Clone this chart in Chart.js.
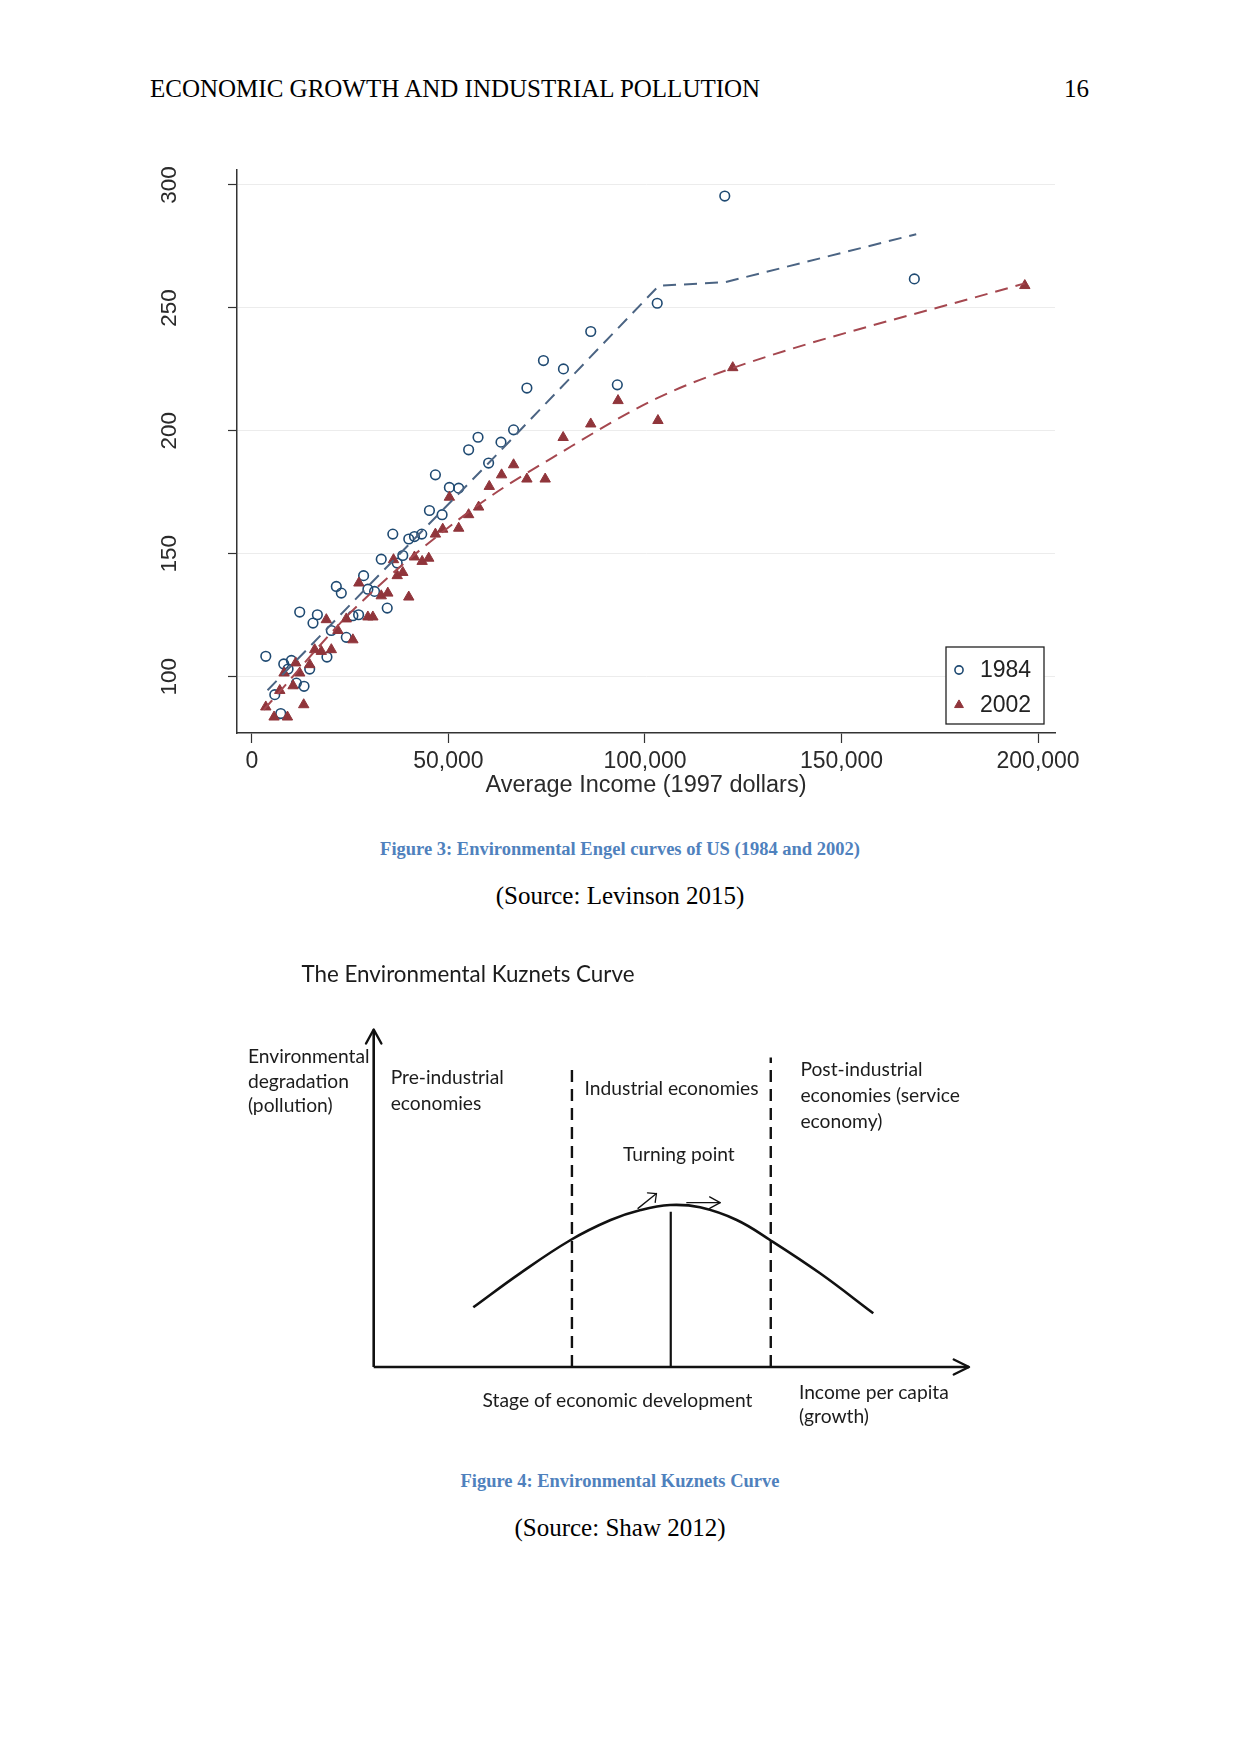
<!DOCTYPE html>
<html><head><meta charset="utf-8">
<script src="https://cdn.jsdelivr.net/npm/chart.js@4.4.1/dist/chart.umd.min.js"></script>
<style>
html,body{margin:0;padding:0;background:#fff;}
body{width:1241px;height:1754px;position:relative;overflow:hidden;}
.t{position:absolute;white-space:nowrap;}
#c1{position:absolute;left:140px;top:150px;}
#c2{position:absolute;left:200px;top:940px;}
</style></head><body>
<canvas id="c1" width="960" height="650"></canvas>
<canvas id="c2" width="800" height="500"></canvas>
<script>
// ---------- Figure 3 data ----------
const income1984 = [3553, 8120, 10070, 9220, 14720, 5840, 13280, 7360, 11340, 12180, 16670, 15560, 20220, 19110, 21490, 22760, 24030, 25710, 27160, 28430, 29520, 31220, 34440, 32920, 36980, 38400, 35860, 39920, 41370, 43220, 45180, 48400, 46700, 50250, 52620, 55150, 57540, 60230, 63380, 66580, 69970, 74180, 79260, 86210, 92970, 103120, 120300, 168520];
const pollution1984 = [108.3, 105.2, 106.6, 103.1, 103.1, 92.7, 96.1, 85.0, 97.4, 126.3, 125.2, 121.8, 118.8, 108.0, 136.7, 134.0, 116.0, 124.8, 125.2, 141.1, 135.6, 134.7, 127.9, 147.8, 146.2, 149.3, 158.0, 156.0, 157.0, 158.0, 167.6, 165.9, 182.1, 177.0, 176.7, 192.3, 197.4, 186.9, 195.4, 200.4, 217.4, 228.6, 225.2, 240.4, 218.7, 251.9, 295.5, 261.8];
const income2002 = [3553, 5660, 9060, 7110, 10490, 8200, 12180, 11170, 14720, 13200, 15990, 17680, 20220, 18950, 21900, 24030, 25710, 27230, 29520, 30790, 32920, 34590, 36040, 36980, 38400, 39920, 41370, 43320, 45000, 46700, 48560, 50250, 52620, 55150, 57690, 60400, 63530, 66580, 69970, 74620, 79190, 86210, 93150, 103300, 122330, 196620];
const pollution2002 = [87.7, 83.6, 83.6, 94.4, 96.3, 101.5, 101.5, 105.6, 104.9, 88.6, 111.0, 110.3, 111.0, 123.2, 118.8, 123.5, 115.0, 138.1, 124.3, 124.3, 132.9, 134.0, 147.6, 141.1, 142.4, 132.4, 148.7, 146.9, 148.2, 158.0, 160.0, 173.0, 160.4, 165.9, 169.0, 177.4, 182.1, 186.2, 180.4, 180.4, 197.3, 202.8, 212.3, 204.2, 225.7, 259.1];
const fitIncome1984 = [4000, 30000, 60000, 103500, 120500, 169000];
const fitPollution1984 = [94.5, 137.5, 186.5, 259, 260.5, 280];
const fitIncome2002 = [3000, 25700, 56000, 80000, 102700, 122200, 196600];
const fitPollution2002 = [86.5, 127, 168, 192.5, 213, 225.5, 260];
const seriesLabels = ['1984', '2002'];
const xTickValues = [0, 50000, 100000, 150000, 200000];
const xTickLabels = ['0', '50,000', '100,000', '150,000', '200,000'];
const yTickValues = [100, 150, 200, 250, 300];
const yTickLabels = ['100', '150', '200', '250', '300'];

// ---------- Figure 4 data ----------
const kzIncome = [16.73, 24.58, 33.08, 39.80, 44.84, 49.77, 54.81, 60.98, 66.58, 74.98, 83.92];
const kzDegradation = [17.69, 27.76, 37.63, 43.56, 46.52, 48.0, 47.32, 43.56, 37.63, 27.76, 15.91];
const stageBoundaryX = [33.3, 66.7];
const stageBoundaryTop = [88.4, 91.7];
const turningPointX = [49.9];
const turningPointTop = [46.0];
const pointerFromX = [44.4, 52.6];
const pointerFromY = [47.0, 48.7];
const pointerToX = [47.5, 58.2];
const pointerToY = [51.4, 48.7];

const zip = (xs, ys) => xs.map((v, i) => ({x: v, y: ys[i]}));

Chart.defaults.font.family = '"Liberation Sans", Arial, sans-serif';

// ---------- Figure 3 ----------
const boxLegend = {
  id: 'boxLegend',
  afterDraw(chart) {
    const {ctx, chartArea} = chart;
    const w = 98, h = 77;
    const x0 = chartArea.right - 11 - w, y0 = chartArea.bottom - 9 - h;
    ctx.save();
    ctx.fillStyle = '#fff'; ctx.fillRect(x0, y0, w, h);
    ctx.strokeStyle = '#222'; ctx.lineWidth = 1.3; ctx.strokeRect(x0, y0, w, h);
    seriesLabels.forEach((lab, i) => {
      const ds = chart.data.datasets.find(d => d.label === lab);
      const cy = y0 + 23 + i * 35;
      ctx.fillStyle = ds.pointBackgroundColor;
      ctx.strokeStyle = ds.pointBorderColor;
      ctx.lineWidth = ds.pointBorderWidth;
      Chart.helpers.drawPoint(ctx, {pointStyle: ds.pointStyle, radius: ds.pointRadius * 0.85, borderWidth: ds.pointBorderWidth, rotation: 0}, x0 + 13, cy);
      ctx.fillStyle = '#222';
      ctx.font = '23px "Liberation Sans", Arial, sans-serif';
      ctx.textBaseline = 'middle';
      ctx.textAlign = 'left';
      ctx.fillText(lab, x0 + 34, cy + 1);
    });
    ctx.restore();
  }
};
function noPad(s) { s.paddingTop = 0; s.paddingBottom = 0; s.paddingLeft = 0; s.paddingRight = 0; }

new Chart(document.getElementById('c1'), {
  type: 'scatter',
  data: {
    datasets: [
      {label: '2002 fit', data: zip(fitIncome2002, fitPollution2002), showLine: true, borderColor: '#a5474f', borderWidth: 2, borderDash: [13, 8], pointRadius: 0, cubicInterpolationMode: 'monotone', fill: false},
      {label: '1984 fit', data: zip(fitIncome1984, fitPollution1984), showLine: true, borderColor: '#4b6483', borderWidth: 2, borderDash: [13, 8], pointRadius: 0, tension: 0, fill: false},
      {label: '2002', data: zip(income2002, pollution2002), showLine: false, pointStyle: 'triangle', pointRadius: 6, pointBackgroundColor: '#90353b', pointBorderColor: '#90353b', pointBorderWidth: 1},
      {label: '1984', data: zip(income1984, pollution1984), showLine: false, pointStyle: 'circle', pointRadius: 4.8, pointBackgroundColor: 'rgba(255,255,255,0)', pointBorderColor: '#1f4a72', pointBorderWidth: 1.6}
    ]
  },
  options: {
    responsive: false, animation: false, devicePixelRatio: 1,
    layout: {padding: {top: 20, right: 45, left: 0, bottom: 0}},
    plugins: {legend: {display: false}, tooltip: {enabled: false}},
    scales: {
      x: {
        type: 'linear', min: -3770, max: 204300,
        afterBuildTicks: s => { s.ticks = xTickValues.map(v => ({value: v})); },
        afterFit: s => { s.height = 67; noPad(s); },
        ticks: {callback: v => xTickLabels[xTickValues.indexOf(v)], minRotation: 0, maxRotation: 0, autoSkip: false, padding: 5, font: {size: 23}, color: '#2a2a2a'},
        grid: {drawOnChartArea: false, tickLength: 10, tickColor: '#333', tickWidth: 1.2},
        border: {color: '#333', width: 1.5},
        title: {display: true, text: 'Average Income (1997 dollars)', font: {size: 23.5}, color: '#2a2a2a', padding: {top: 0, bottom: 0}}
      },
      y: {
        type: 'linear', min: 77.1, max: 306.1,
        afterBuildTicks: s => { s.ticks = yTickValues.map(v => ({value: v})); },
        afterFit: s => { s.width = 97; noPad(s); },
        ticks: {callback: v => yTickLabels[yTickValues.indexOf(v)], minRotation: 90, maxRotation: 90, crossAlign: 'center', padding: 39, font: {size: 22.5}, color: '#2a2a2a'},
        grid: {color: '#ececec', lineWidth: 1, tickLength: 9, tickColor: '#333', tickWidth: 1.2},
        border: {color: '#333', width: 1.5}
      }
    }
  },
  plugins: [boxLegend]
});

// ---------- Figure 4 ----------
function arrowHead(ctx, x1, y1, x2, y2, len, spread) {
  const a = Math.atan2(y2 - y1, x2 - x1);
  ctx.beginPath();
  ctx.moveTo(x2 - len * Math.cos(a - spread), y2 - len * Math.sin(a - spread));
  ctx.lineTo(x2, y2);
  ctx.lineTo(x2 - len * Math.cos(a + spread), y2 - len * Math.sin(a + spread));
  ctx.stroke();
}
const kzArrows = {
  id: 'kzArrows',
  afterDatasetsDraw(chart) {
    const {ctx, scales: {x, y}} = chart;
    ctx.save();
    ctx.strokeStyle = '#111'; ctx.lineCap = 'round'; ctx.lineJoin = 'round';
    ctx.lineWidth = 2.4;
    arrowHead(ctx, x.getPixelForValue(0), y.getPixelForValue(0), x.getPixelForValue(0), y.getPixelForValue(100), 16, 0.5);
    arrowHead(ctx, x.getPixelForValue(0), y.getPixelForValue(0), x.getPixelForValue(100), y.getPixelForValue(0), 17, 0.46);
    ctx.lineWidth = 1.3;
    pointerFromX.forEach((fx, i) => {
      const ax = x.getPixelForValue(fx), ay = y.getPixelForValue(pointerFromY[i]);
      const bx = x.getPixelForValue(pointerToX[i]), by = y.getPixelForValue(pointerToY[i]);
      ctx.beginPath(); ctx.moveTo(ax, ay); ctx.lineTo(bx, by); ctx.stroke();
      arrowHead(ctx, ax, ay, bx, by, i === 0 ? 9 : 12, i === 0 ? 0.75 : 0.5);
    });
    ctx.restore();
  }
};

const kzLine = {showLine: true, pointRadius: 0, borderColor: '#111', clip: false, fill: false};
new Chart(document.getElementById('c2'), {
  type: 'scatter',
  data: {
    datasets: [
      Object.assign({label: 'Environmental Kuznets Curve', data: zip(kzIncome, kzDegradation), borderWidth: 2.6, tension: 0.4}, kzLine),
      Object.assign({label: 'Pre-industrial / industrial boundary', data: [{x: stageBoundaryX[0], y: 0}, {x: stageBoundaryX[0], y: stageBoundaryTop[0]}], borderWidth: 2.4, borderDash: [12, 7]}, kzLine),
      Object.assign({label: 'Industrial / post-industrial boundary', data: [{x: stageBoundaryX[1], y: 0}, {x: stageBoundaryX[1], y: stageBoundaryTop[1]}], borderWidth: 2.4, borderDash: [12, 7]}, kzLine),
      Object.assign({label: 'Turning point', data: [{x: turningPointX[0], y: 0}, {x: turningPointX[0], y: turningPointTop[0]}], borderWidth: 2.2}, kzLine),
      Object.assign({label: 'Income per capita axis', data: [{x: 0, y: 0}, {x: 100, y: 0}], borderWidth: 2.6}, kzLine),
      Object.assign({label: 'Environmental degradation axis', data: [{x: 0, y: 0}, {x: 0, y: 100}], borderWidth: 2.6}, kzLine)
    ]
  },
  options: {
    responsive: false, animation: false, devicePixelRatio: 1,
    layout: {padding: {left: 173.7, right: 31, top: 89.5, bottom: 73}},
    plugins: {legend: {display: false}, tooltip: {enabled: false}},
    scales: {x: {type: 'linear', display: false, min: 0, max: 100}, y: {type: 'linear', display: false, min: 0, max: 100}}
  },
  plugins: [kzArrows]
});

// ---------- Page text ----------
const mctx = document.createElement('canvas').getContext('2d');
function fitSize(str, family, target, weight) {
  mctx.font = (weight || 'normal') + ' 100px ' + family;
  return 100 * target / mctx.measureText(str).width;
}
function addText(str, o) {
  const d = document.createElement('div');
  d.className = 't';
  d.textContent = str;
  const lh = Math.round(o.size * 1.4);
  d.style.font = (o.weight || 'normal') + ' ' + o.size + 'px ' + o.family;
  d.style.lineHeight = lh + 'px';
  d.style.height = lh + 'px';
  d.style.top = (o.cy - lh / 2) + 'px';
  d.style.color = o.color || '#000';
  if (o.align === 'center') { d.style.left = (o.x - 600) + 'px'; d.style.width = '1200px'; d.style.textAlign = 'center'; }
  else if (o.align === 'right') { d.style.right = (1241 - o.x) + 'px'; }
  else { d.style.left = o.x + 'px'; }
  document.body.appendChild(d);
}
const serif = '"Liberation Serif", "Times New Roman", serif';
const sans = 'Lato, "Noto Sans", sans-serif';
addText('ECONOMIC GROWTH AND INDUSTRIAL POLLUTION', {x: 150, cy: 88.4, size: 25, family: serif});
addText('16', {x: 1089, cy: 88.4, size: 25, family: serif, align: 'right'});
addText('Figure 3: Environmental Engel curves of US (1984 and 2002)', {x: 620, cy: 849, size: 18.5, family: serif, weight: 'bold', color: '#4f81bd', align: 'center'});
addText('(Source: Levinson 2015)', {x: 620, cy: 895, size: 25, family: serif, align: 'center'});
addText('Figure 4: Environmental Kuznets Curve', {x: 620, cy: 1480.5, size: 18.5, family: serif, weight: 'bold', color: '#4f81bd', align: 'center'});
addText('(Source: Shaw 2012)', {x: 620, cy: 1527.5, size: 25, family: serif, align: 'center'});

const titleSize = fitSize('The Environmental  Kuznets Curve', sans, 339);
const labelSize = fitSize('Stage of economic development', sans, 270.4);
addText('The Environmental  Kuznets Curve', {x: 301.4, cy: 973.3, size: titleSize, family: sans, color: '#1c1c1c'});
const kzLabels = [
  ['Environmental', 247.9, 1055], ['degradation', 247.9, 1080], ['(pollution)', 247.9, 1104],
  ['Pre-industrial', 390.7, 1076.7], ['economies', 390.7, 1102.3],
  ['Industrial economies', 584.6, 1087.7],
  ['Post-industrial', 800.4, 1068.3], ['economies (service', 800.4, 1094], ['economy)', 800.4, 1120],
  ['Turning point', 622.9, 1153.3],
  ['Stage of economic development', 482.6, 1399.3],
  ['Income per capita', 798.9, 1391.7], ['(growth)', 798.9, 1415.7]
];
kzLabels.forEach(([s, x, cy]) => addText(s, {x: x, cy: cy, size: labelSize, family: sans, color: '#1c1c1c'}));
</script>
</body></html>
